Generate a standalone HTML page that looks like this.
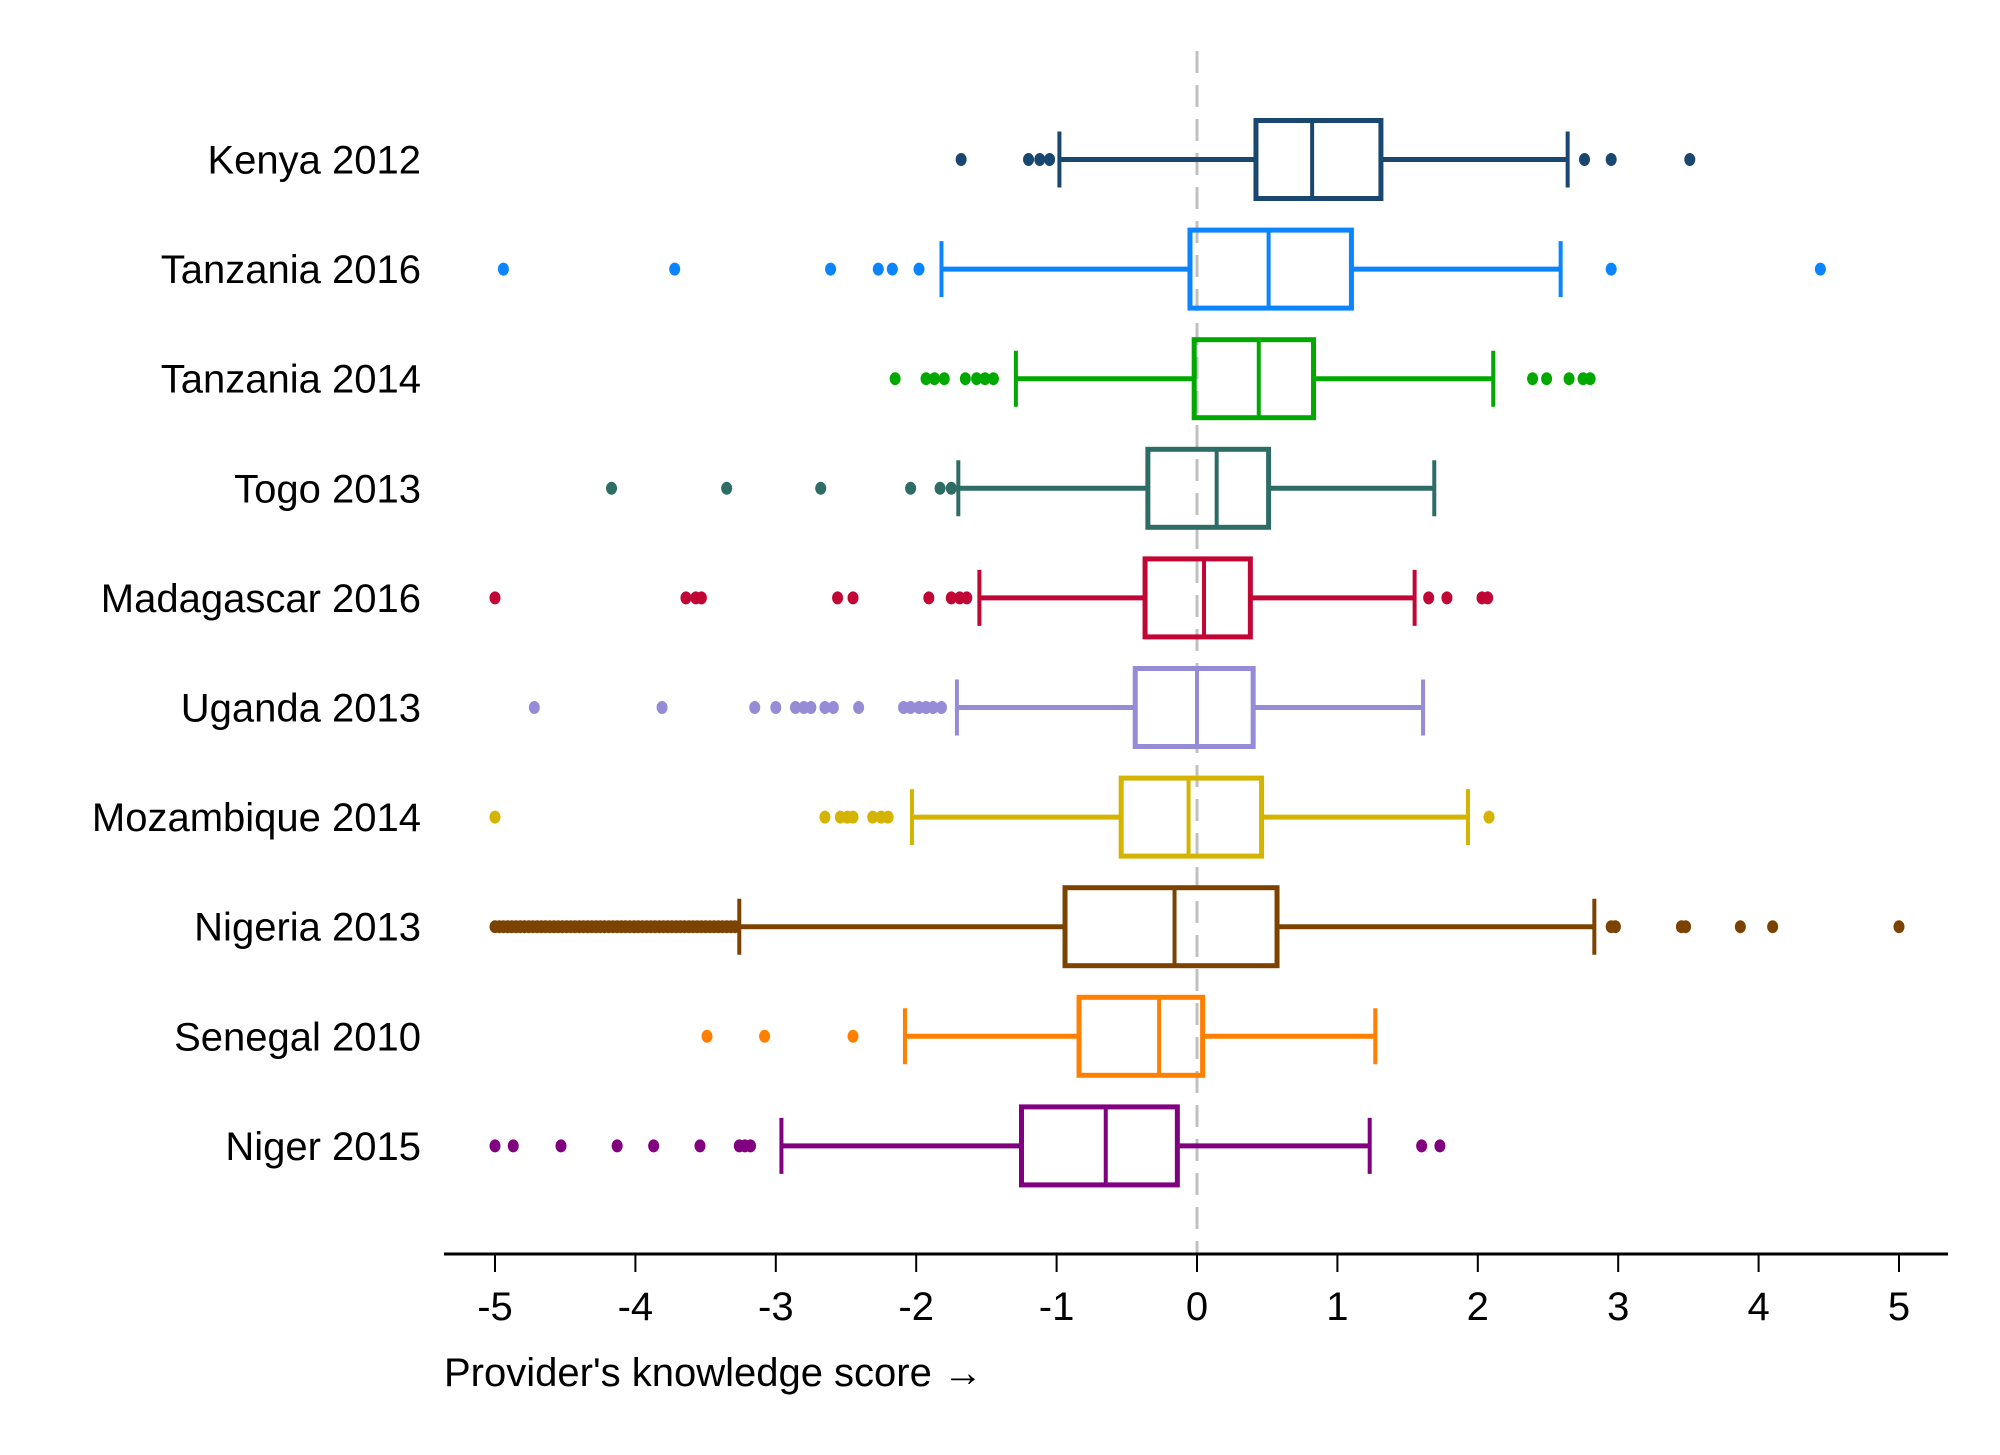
<!DOCTYPE html>
<html><head><meta charset="utf-8"><style>
html,body{margin:0;padding:0;background:#fff;}
svg{display:block;font-family:"Liberation Sans",Arial,sans-serif;}
</style></head><body>
<svg id="chart" width="2000" height="1455" viewBox="0 0 2000 1455" xmlns="http://www.w3.org/2000/svg"></svg>
<script>
const categories=["Kenya 2012","Tanzania 2016","Tanzania 2014","Togo 2013","Madagascar 2016","Uganda 2013","Mozambique 2014","Nigeria 2013","Senegal 2010","Niger 2015"];
const colors=["#1a476f","#0a84ff","#00a800","#2d6d66","#c10534","#958bd6","#d4b400","#7c4300","#ff8000","#800080"];
const whiskerLow=[-0.98,-1.82,-1.29,-1.70,-1.55,-1.71,-2.03,-3.26,-2.08,-2.96];
const q1=[0.42,-0.05,-0.02,-0.35,-0.37,-0.44,-0.54,-0.94,-0.84,-1.25];
const median=[0.82,0.51,0.44,0.14,0.05,0.00,-0.06,-0.16,-0.27,-0.65];
const q3=[1.31,1.10,0.83,0.51,0.38,0.40,0.46,0.57,0.04,-0.14];
const whiskerHigh=[2.64,2.59,2.11,1.69,1.55,1.61,1.93,2.83,1.27,1.23];
const outliers=[
 [-1.68,-1.20,-1.12,-1.05,2.76,2.95,3.51],
 [-4.94,-3.72,-2.61,-2.27,-2.17,-1.98,2.95,4.44],
 [-2.15,-1.93,-1.87,-1.80,-1.65,-1.57,-1.51,-1.45,2.39,2.49,2.65,2.75,2.80],
 [-4.17,-3.35,-2.68,-2.04,-1.83,-1.75],
 [-5.0,-3.64,-3.57,-3.53,-2.56,-2.45,-1.91,-1.75,-1.69,-1.64,1.65,1.78,2.03,2.07],
 [-4.72,-3.81,-3.15,-3.00,-2.86,-2.80,-2.75,-2.65,-2.59,-2.41,-2.09,-2.04,-1.98,-1.93,-1.88,-1.82],
 [-5.0,-2.65,-2.54,-2.49,-2.45,-2.31,-2.25,-2.20,2.08],
 [-5.0,-4.97,-4.94,-4.91,-4.88,-4.85,-4.82,-4.79,-4.76,-4.73,-4.70,-4.67,-4.64,-4.61,-4.58,-4.55,-4.52,-4.49,-4.46,-4.43,-4.40,-4.37,-4.34,-4.31,-4.28,-4.25,-4.22,-4.19,-4.16,-4.13,-4.10,-4.07,-4.04,-4.01,-3.98,-3.95,-3.92,-3.89,-3.86,-3.83,-3.80,-3.77,-3.74,-3.71,-3.68,-3.65,-3.62,-3.59,-3.56,-3.53,-3.50,-3.47,-3.44,-3.41,-3.38,-3.35,-3.32,-3.29,2.95,2.98,3.45,3.48,3.87,4.10,5.00],
 [-3.49,-3.08,-2.45],
 [-5.0,-4.87,-4.53,-4.13,-3.87,-3.54,-3.26,-3.22,-3.18,1.60,1.73]
];
const xTicks=[-5,-4,-3,-2,-1,0,1,2,3,4,5];
const xTickLabels=["-5","-4","-3","-2","-1","0","1","2","3","4","5"];

const NS="http://www.w3.org/2000/svg";
const svg=document.getElementById('chart');
const X=v=>1197+v*140.4;
const Y=i=>159.5+i*109.6;
function mk(tag,attrs,parent){const e=document.createElementNS(NS,tag);for(const k in attrs)e.setAttribute(k,attrs[k]);(parent||svg).appendChild(e);return e;}

const ref=mk('line',{x1:X(0),x2:X(0),y1:51,y2:1254,stroke:'#c0c0c0','stroke-width':3,'stroke-dasharray':'22,12'});



categories.forEach((c,i)=>{
  const g=mk('g',{});
  
  
  const col=colors[i], y=Y(i);
  const lab=mk('text',{x:421,y:y+14,'text-anchor':'end','font-size':40,fill:'#000'},g);
  lab.textContent=c;
  
  
  mk('line',{x1:X(whiskerLow[i]),x2:X(q1[i]),y1:y,y2:y,stroke:col,'stroke-width':5},g);
  mk('line',{x1:X(q3[i]),x2:X(whiskerHigh[i]),y1:y,y2:y,stroke:col,'stroke-width':5},g);
  mk('line',{x1:X(whiskerLow[i]),x2:X(whiskerLow[i]),y1:y-28,y2:y+28,stroke:col,'stroke-width':4},g);
  mk('line',{x1:X(whiskerHigh[i]),x2:X(whiskerHigh[i]),y1:y-28,y2:y+28,stroke:col,'stroke-width':4},g);
  const b=mk('rect',{x:X(q1[i]),y:y-39,width:X(q3[i])-X(q1[i]),height:78,fill:'none',stroke:col,'stroke-width':5},g);
  
  
  mk('line',{x1:X(median[i]),x2:X(median[i]),y1:y-39,y2:y+39,stroke:col,'stroke-width':4},g);
  outliers[i].forEach(v=>{
    const d=mk('ellipse',{cx:X(v),cy:y,rx:5.5,ry:6.5,fill:col},g);
    
    
  });
});

const ax=mk('g',{});


mk('line',{x1:444,x2:1948,y1:1254,y2:1254,stroke:'#000','stroke-width':3},ax);
xTicks.forEach((t,k)=>{
  mk('line',{x1:X(t),x2:X(t),y1:1254,y2:1272,stroke:'#000','stroke-width':2},ax);
  const tl=mk('text',{x:X(t),y:1320,'text-anchor':'middle','font-size':40,fill:'#000'},ax);
  tl.textContent=xTickLabels[k];
  
  
});
const tt=mk('text',{x:444,y:1386,'font-size':40,fill:'#000'});
tt.textContent="Provider's knowledge score \u2192";


</script>
</body></html>
